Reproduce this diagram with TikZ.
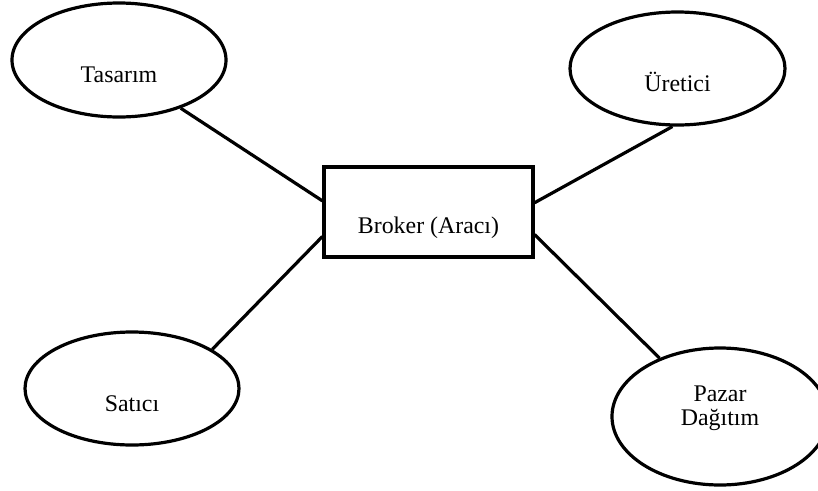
\documentclass[tikz,border=0pt]{standalone}
\usepackage{fontspec}
\setmainfont{Liberation Serif}
\usetikzlibrary{shapes.geometric}
\newcommand\dn[2]{\raisebox{-#1}[0pt][0pt]{#2}}
\begin{document}
\begin{tikzpicture}[x=0.75pt,y=-0.75pt,
  ell/.style={draw,ellipse,line width=2.4pt,inner sep=0pt,font=\fontsize{17.9}{18}\selectfont},
  box/.style={draw,rectangle,line width=2.4pt,inner sep=0pt,font=\fontsize{17.9}{18}\selectfont},
  conn/.style={line width=2.4pt}]
\useasboundingbox (0,0) rectangle (818,490);
\node[ell, minimum width=160.5pt, minimum height=85.5pt] (tas) at (119,60) {\dn{16.5pt}{Tasarım}};
\node[ell, minimum width=161.25pt, minimum height=84.75pt] (ure) at (677.5,68.5) {\dn{17.6pt}{Üretici}};
\node[ell, minimum width=160.5pt, minimum height=84.75pt] (sat) at (132,388.5) {\dn{17.6pt}{Satıcı}};
\node[ell, minimum width=162pt, minimum height=102.75pt] (paz) at (720,416.5) {\raisebox{10.9pt}[0pt][0pt]{\begin{tabular}[t]{@{}c@{}}Pazar\\Dağıtım\end{tabular}}};
\node[box, minimum width=156.75pt, minimum height=67.5pt] (bro) at (428.5,212) {\dn{15.75pt}{Broker (Aracı)}};
\draw[conn] (tas.-38.5) -- (bro.174.5);
\draw[conn] (ure.-95.5) -- (bro.5.5);
\draw[conn] (sat.26.6) -- (bro.-167.6);
\draw[conn] (paz.136.7) -- (bro.-12.4);
\end{tikzpicture}
\end{document}
